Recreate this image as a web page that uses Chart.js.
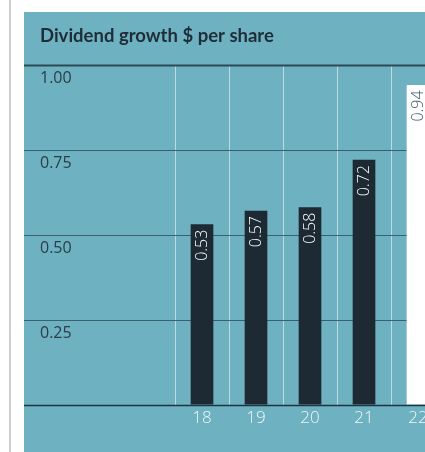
<!DOCTYPE html>
<html>
<head>
<meta charset="utf-8">
<script src="https://cdn.jsdelivr.net/npm/chart.js@4/dist/chart.umd.min.js"></script>
<style>
  html, body { margin: 0; padding: 0; background: #ffffff; overflow: hidden; }
  canvas { display: block; }
</style>
</head>
<body>
<canvas id="grafico-dividendo" width="460" height="452"></canvas>
<script>
const anos = ["18", "19", "20", "21", "22"];
const dividendos = [0.53, 0.57, 0.58, 0.72, 0.94];
const corBarras = ["#1e2a33", "#1e2a33", "#1e2a33", "#1e2a33", "#ffffff"];
const corRotulos = ["#ffffff", "#ffffff", "#ffffff", "#ffffff", "#3d5a6c"];
const yTicks = [0.25, 0.5, 0.75, 1.0];
const titulo = "Dividend growth $ per share";

const TEAL = "#6eb1c1";
const ESCURO = "#1f2d38";

const fundoPlugin = {
  id: "fundo",
  beforeDraw(chart) {
    const c = chart.ctx;
    c.save();
    c.fillStyle = "#ffffff";
    c.fillRect(0, 0, chart.width, chart.height);
    c.fillStyle = "#cfcfcf";
    c.fillRect(9, 0, 2, chart.height);
    c.fillStyle = TEAL;
    c.fillRect(24, 12, chart.width - 24, chart.height - 12);
    // titulo
    c.fillStyle = ESCURO;
    c.font = "bold 18.5px Lato";
    c.textBaseline = "alphabetic";
    c.textAlign = "left";
    c.fillText(titulo, 40, 42);
    c.restore();
  },
  beforeDatasetsDraw(chart) {
    const c = chart.ctx;
    const y = chart.scales.y;
    c.save();
    yTicks.forEach((v) => {
      const py = Math.round(y.getPixelForValue(v)) + 0.5;
      c.strokeStyle = v === 1 ? "#2c4a56" : "#3a6170";
      c.lineWidth = v === 1 ? 2 : 1;
      c.beginPath();
      c.moveTo(24, py);
      c.lineTo(chart.width, py);
      c.stroke();
      c.fillStyle = "#2a3d48";
      c.font = "16px 'Open Sans'";
      c.textAlign = "left";
      c.textBaseline = "alphabetic";
      c.fillText(v.toFixed(2), 40, py + 17);
    });
    c.restore();
  },
  afterDatasetsDraw(chart) {
    const c = chart.ctx;
    const meta = chart.getDatasetMeta(0);
    const y = chart.scales.y;
    c.save();
    // linha base
    const base = Math.round(y.getPixelForValue(0)) + 0.5;
    c.strokeStyle = "#1f3540";
    c.lineWidth = 1.5;
    c.beginPath();
    c.moveTo(24, base);
    c.lineTo(chart.width, base);
    c.stroke();
    // rotulos das barras
    c.font = "300 16px 'Open Sans'";
    c.textAlign = "right";
    c.textBaseline = "middle";
    meta.data.forEach((bar, i) => {
      c.save();
      c.translate(bar.x, bar.y + 5);
      c.rotate(-Math.PI / 2);
      c.fillStyle = corRotulos[i];
      c.fillText(dividendos[i].toFixed(2), 0, 0);
      c.restore();
    });
    c.restore();
  },
};

const ctxDividendo = document.getElementById("grafico-dividendo").getContext("2d");
const graficoDividendo = new Chart(ctxDividendo, {
  type: "bar",
  data: {
    labels: anos,
    datasets: [{
      data: dividendos,
      backgroundColor: corBarras,
      borderWidth: 0,
      barThickness: 22,
    }],
  },
  options: {
    responsive: false,
    animation: false,
    layout: { padding: { left: 175, right: 15, top: 65, bottom: 21 } },
    scales: {
      x: {
        grid: {
          offset: true,
          color: "rgba(255, 255, 255, 0.55)",
          lineWidth: 1,
          drawTicks: false,
        },
        border: { display: false },
        ticks: {
          color: "#f2f7f9",
          font: { family: "'Open Sans'", size: 17, weight: 300 },
          padding: 3,
          maxRotation: 0,
        },
      },
      y: {
        display: false,
        min: 0,
        max: 1,
      },
    },
    plugins: {
      legend: { display: false },
      tooltip: { enabled: false },
    },
  },
  plugins: [fundoPlugin],
});
</script>
</body>
</html>
